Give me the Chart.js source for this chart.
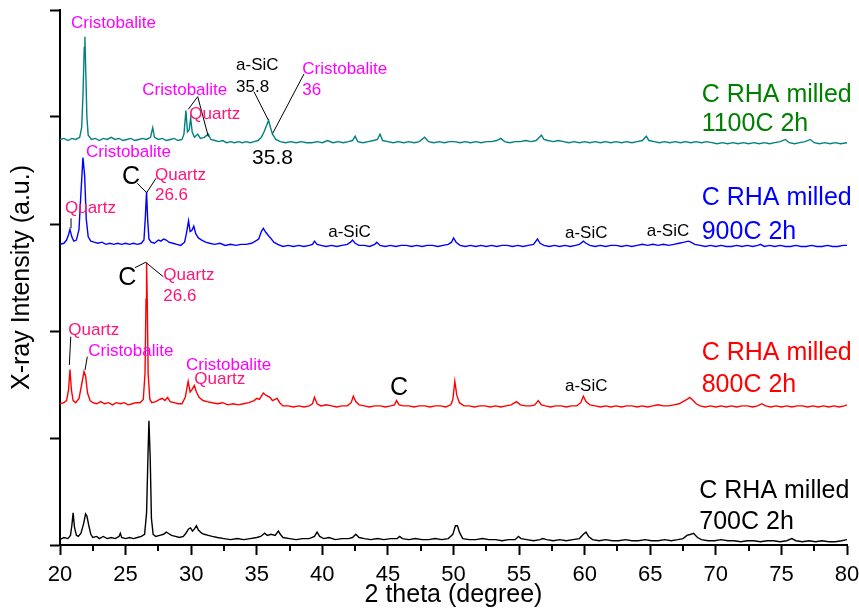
<!DOCTYPE html>
<html>
<head>
<meta charset="utf-8">
<script src="https://cdn.jsdelivr.net/npm/chart.js@4/dist/chart.umd.min.js"></script>
<style>
html,body{margin:0;padding:0;background:#fff;}
canvas{display:block;}
</style>
</head>
<body>
<canvas id="c" width="859" height="610"></canvas>
<script>
// ---- data: [2theta (degree), offset intensity (a.u.)] ----
const xTicks = [20, 25, 30, 35, 40, 45, 50, 55, 60, 65, 70, 75, 80];
const seriesNames = ['C RHA milled 700C 2h', 'C RHA milled 800C 2h', 'C RHA milled 900C 2h', 'C RHA milled 1100C 2h'];

const s700 = [[20.0,5],[20.3,7],[20.6,6],[20.8,9],[20.9,18],[21.0,30],[21.1,17],[21.25,9],[21.4,8],[21.6,11],[21.8,20],[21.95,29],[22.05,27],[22.2,18],[22.35,10],[22.5,7],[22.8,8],[23.0,6],[23.3,8],[23.6,6],[23.9,7],[24.2,6],[24.5,8],[24.6,11],[24.7,7],[25.0,6],[25.3,7],[25.6,6],[25.9,7],[26.2,8],[26.45,10],[26.6,30],[26.7,80],[26.78,116],[26.88,80],[26.97,25],[27.1,10],[27.3,8],[27.6,9],[27.9,10],[28.1,12],[28.25,11],[28.5,9],[28.8,8],[29.1,7],[29.4,8],[29.6,11],[29.8,15],[29.95,16],[30.1,13],[30.25,15],[30.4,18],[30.55,14],[30.8,11],[31.0,10],[31.3,9],[31.6,8],[32.0,7],[32.5,6],[33.0,5],[33.5,6],[34.0,5],[34.5,6],[35.0,7],[35.3,8],[35.6,11],[35.8,9],[36.1,10],[36.4,9],[36.65,13],[36.8,10],[37.0,7],[37.5,6],[38.0,5],[38.5,6],[39.0,6],[39.4,8],[39.6,12],[39.8,8],[40.1,6],[40.5,7],[41.0,5],[41.5,6],[42.0,6],[42.3,7],[42.55,10],[42.8,7],[43.2,6],[43.7,5],[44.2,6],[44.7,5],[45.2,6],[45.7,6],[45.9,8],[46.1,6],[46.6,5],[47.1,6],[47.6,5],[48.1,5],[48.6,6],[49.1,5],[49.6,6],[49.95,10],[50.15,18],[50.3,18],[50.45,12],[50.7,6],[51.2,5],[51.7,5],[52.2,6],[52.7,5],[53.2,5],[53.7,4],[54.2,5],[54.7,5],[54.95,8],[55.15,6],[55.6,5],[56.1,4],[56.6,5],[56.8,6],[57.1,5],[57.6,4],[58.1,5],[58.6,4],[59.1,5],[59.6,6],[59.9,10],[60.1,12],[60.3,8],[60.6,5],[61.1,4],[61.6,5],[62.1,4],[62.6,4],[63.1,5],[63.6,4],[64.1,4],[64.6,5],[65.1,4],[65.6,4],[66.1,5],[66.6,4],[67.1,5],[67.5,6],[67.8,9],[68.1,10],[68.3,11],[68.6,7],[68.9,5],[69.4,4],[69.9,4],[70.4,5],[70.9,4],[71.4,4],[71.9,3],[72.4,4],[72.9,4],[73.4,3],[73.9,4],[74.4,4],[74.9,3],[75.4,4],[75.8,6],[76.1,4],[76.6,3],[77.1,4],[77.6,3],[78.1,4],[78.6,3],[79.1,3],[79.6,4],[80.0,5]];

const s800 = [[20.0,132],[20.3,133],[20.5,135],[20.65,145],[20.76,164],[20.87,145],[21.0,135],[21.2,133],[21.45,137],[21.65,150],[21.83,162],[21.95,158],[22.1,142],[22.3,135],[22.5,133],[22.8,132],[23.1,134],[23.4,132],[23.7,133],[24.0,131],[24.3,133],[24.6,132],[24.9,133],[25.2,131],[25.5,132],[25.8,133],[26.1,133],[26.35,136],[26.48,160],[26.56,230],[26.6,264],[26.65,230],[26.72,160],[26.85,136],[27.0,133],[27.3,134],[27.6,136],[27.8,137],[28.0,135],[28.2,138],[28.4,134],[28.7,133],[29.0,132],[29.3,132],[29.55,138],[29.77,153],[29.92,143],[30.05,145],[30.24,149],[30.4,143],[30.6,138],[30.9,135],[31.2,134],[31.6,133],[32.0,132],[32.4,133],[32.8,131],[33.2,132],[33.6,131],[34.0,132],[34.4,133],[34.8,135],[35.0,137],[35.2,136],[35.5,142],[35.7,140],[36.0,138],[36.2,135],[36.55,137],[36.75,133],[37.0,130],[37.4,130],[37.8,129],[38.2,130],[38.6,129],[39.0,130],[39.25,132],[39.4,138],[39.6,132],[39.9,130],[40.3,131],[40.7,130],[41.1,129],[41.5,130],[41.9,130],[42.2,133],[42.36,139],[42.55,134],[42.8,131],[43.2,130],[43.6,129],[44.0,130],[44.4,130],[44.8,129],[45.2,130],[45.5,131],[45.66,135],[45.85,131],[46.2,130],[46.6,130],[47.0,129],[47.4,130],[47.8,130],[48.2,129],[48.6,130],[49.0,130],[49.4,129],[49.8,131],[49.95,136],[50.1,153],[50.25,140],[50.45,133],[50.8,130],[51.2,130],[51.6,129],[52.0,130],[52.4,130],[52.8,129],[53.2,130],[53.6,129],[54.0,130],[54.4,131],[54.8,134],[55.1,131],[55.5,130],[55.9,130],[56.2,131],[56.46,135],[56.7,131],[57.0,130],[57.4,129],[57.8,130],[58.2,130],[58.6,129],[59.0,130],[59.4,130],[59.7,133],[59.9,139],[60.1,134],[60.4,131],[60.8,130],[61.2,129],[61.6,130],[62.0,129],[62.4,130],[62.8,129],[63.2,130],[63.6,130],[64.0,129],[64.4,130],[64.8,129],[65.2,130],[65.6,131],[66.0,130],[66.4,130],[66.8,131],[67.2,132],[67.5,134],[67.8,136],[68.0,138],[68.2,136],[68.5,132],[68.8,130],[69.2,129],[69.6,130],[70.0,129],[70.4,130],[70.8,129],[71.2,130],[71.6,129],[72.0,130],[72.4,130],[72.8,129],[73.2,130],[73.5,132],[73.8,130],[74.2,129],[74.6,130],[75.0,129],[75.4,130],[75.8,129],[76.2,130],[76.6,130],[77.0,129],[77.4,130],[77.8,129],[78.2,130],[78.6,129],[79.0,130],[79.4,129],[79.8,130],[80.0,131]];

const s900 = [[20.0,281],[20.3,282],[20.5,285],[20.65,290],[20.76,295],[20.9,288],[21.05,284],[21.25,285],[21.45,295],[21.6,330],[21.75,362],[21.88,345],[22.0,305],[22.15,288],[22.35,284],[22.6,283],[22.9,282],[23.2,283],[23.5,281],[23.8,282],[24.1,281],[24.4,282],[24.7,281],[25.0,282],[25.3,281],[25.6,282],[25.9,281],[26.2,282],[26.4,285],[26.5,305],[26.6,330],[26.68,305],[26.78,286],[26.95,283],[27.2,282],[27.5,285],[27.7,284],[27.9,286],[28.1,285],[28.3,283],[28.6,282],[28.9,281],[29.2,280],[29.5,283],[29.65,292],[29.8,303],[29.92,293],[30.05,294],[30.2,298],[30.35,291],[30.55,287],[30.8,285],[31.1,283],[31.4,282],[31.8,281],[32.2,282],[32.6,280],[33.0,281],[33.4,280],[33.8,281],[34.2,281],[34.6,282],[34.9,284],[35.15,286],[35.35,293],[35.5,296],[35.7,292],[35.9,289],[36.05,287],[36.3,283],[36.6,281],[37.0,279],[37.4,280],[37.8,279],[38.2,280],[38.6,279],[39.0,280],[39.25,281],[39.4,284],[39.6,281],[39.9,280],[40.3,279],[40.7,280],[41.1,279],[41.5,280],[41.9,281],[42.15,283],[42.3,285],[42.5,282],[42.8,280],[43.2,280],[43.6,279],[44.0,281],[44.15,283],[44.4,280],[44.8,279],[45.2,280],[45.6,279],[46.0,280],[46.4,280],[46.8,279],[47.2,280],[47.6,279],[48.0,280],[48.4,280],[48.8,279],[49.2,280],[49.6,281],[49.85,283],[50.0,287],[50.2,283],[50.5,280],[50.9,279],[51.3,280],[51.7,279],[52.1,280],[52.5,279],[52.9,280],[53.3,279],[53.7,280],[54.1,280],[54.5,279],[54.9,280],[55.3,279],[55.7,280],[56.1,281],[56.4,286],[56.6,282],[56.9,280],[57.3,279],[57.7,280],[58.1,279],[58.5,280],[58.9,279],[59.3,280],[59.6,281],[59.9,284],[60.1,282],[60.4,280],[60.8,279],[61.2,280],[61.6,279],[62.0,280],[62.4,280],[62.8,279],[63.2,280],[63.6,279],[64.0,280],[64.4,281],[64.8,280],[65.2,281],[65.6,280],[66.0,281],[66.4,280],[66.8,281],[67.2,282],[67.6,283],[67.9,284],[68.1,283],[68.4,281],[68.8,280],[69.2,279],[69.6,280],[70.0,279],[70.4,280],[70.8,279],[71.2,279],[71.6,280],[72.0,279],[72.4,280],[72.8,279],[73.2,280],[73.4,281],[73.7,279],[74.1,280],[74.5,279],[74.9,280],[75.3,279],[75.7,279],[76.1,280],[76.5,279],[76.9,279],[77.3,280],[77.7,279],[78.1,279],[78.5,280],[78.9,279],[79.3,279],[79.7,280],[80.0,280]];

const s1100 = [[20.0,379],[20.3,380],[20.6,378],[20.9,380],[21.2,379],[21.5,381],[21.65,390],[21.75,420],[21.85,465],[21.9,475],[21.97,440],[22.05,400],[22.15,383],[22.4,379],[22.7,380],[23.0,378],[23.3,380],[23.6,379],[23.9,381],[24.2,379],[24.5,380],[24.8,378],[25.1,379],[25.4,380],[25.7,378],[26.0,379],[26.3,380],[26.6,379],[26.9,381],[27.07,390],[27.2,381],[27.5,379],[27.8,380],[28.1,378],[28.4,379],[28.7,380],[29.0,378],[29.3,379],[29.45,384],[29.6,406],[29.72,386],[29.85,388],[29.96,399],[30.08,386],[30.25,381],[30.5,384],[30.7,380],[31.0,381],[31.3,384],[31.5,379],[31.8,378],[32.1,377],[32.4,378],[32.7,376],[33.0,377],[33.3,376],[33.6,377],[33.9,376],[34.2,377],[34.5,376],[34.8,377],[35.1,378],[35.35,381],[35.55,386],[35.75,392],[35.9,397],[36.05,390],[36.2,384],[36.45,379],[36.8,377],[37.2,376],[37.6,377],[38.0,376],[38.4,377],[38.8,376],[39.2,376],[39.6,377],[40.0,376],[40.4,378],[40.8,376],[41.2,377],[41.6,376],[42.0,377],[42.3,378],[42.5,382],[42.7,377],[43.1,376],[43.5,377],[43.9,378],[44.2,379],[44.4,384],[44.6,378],[45.0,377],[45.4,376],[45.8,377],[46.2,376],[46.6,377],[47.0,376],[47.4,377],[47.8,381],[48.1,377],[48.5,376],[48.9,377],[49.3,376],[49.7,377],[50.1,377],[50.5,376],[50.9,377],[51.3,376],[51.7,377],[52.1,376],[52.5,377],[52.9,377],[53.3,378],[53.6,380],[53.9,377],[54.3,376],[54.7,377],[55.1,377],[55.5,378],[55.9,377],[56.3,378],[56.55,381],[56.7,383],[56.9,379],[57.2,378],[57.6,377],[58.0,378],[58.4,377],[58.8,376],[59.2,377],[59.6,376],[60.0,377],[60.4,376],[60.8,377],[61.2,376],[61.6,377],[62.0,376],[62.4,377],[62.8,376],[63.2,377],[63.6,376],[64.0,377],[64.4,378],[64.7,382],[64.9,378],[65.3,377],[65.7,376],[66.1,377],[66.5,376],[66.9,377],[67.3,376],[67.7,377],[68.1,376],[68.5,377],[68.9,376],[69.3,377],[69.7,376],[70.1,375],[70.5,376],[70.9,375],[71.3,376],[71.7,375],[72.1,376],[72.5,375],[72.9,376],[73.3,375],[73.7,376],[74.1,375],[74.5,376],[74.9,377],[75.3,379],[75.6,376],[76.0,375],[76.4,376],[76.8,377],[77.2,379],[77.5,376],[77.9,375],[78.3,376],[78.7,375],[79.1,376],[79.5,375],[80.0,376]];

// ---- annotation labels (anchored in data coordinates) ----
const MAG = '#FF00FF', PINK = '#FF1478', BLK = '#000000';
const labels = [
  // 1100C
  {t:'Cristobalite', x:20.84, y:487.9, c:MAG, s:17},
  {t:'Cristobalite', x:26.27, y:425.2, c:MAG, s:17},
  {t:'Quartz',       x:29.86, y:402.5, c:PINK, s:17},
  {t:'a-SiC',        x:33.42, y:448.6, c:BLK, s:17},
  {t:'35.8',         x:33.42, y:427.8, c:BLK, s:17},
  {t:'Cristobalite', x:38.47, y:444.6, c:MAG, s:17},
  {t:'36',           x:38.47, y:425.2, c:MAG, s:17},
  {t:'35.8',         x:34.64, y:361.7, c:BLK, s:21},
  {t:'C RHA milled', x:68.92, y:420.6, c:'#008000', s:25},
  {t:'1100C 2h',     x:68.92, y:393.5, c:'#008000', s:25},
  // 900C
  {t:'Cristobalite', x:21.98, y:366.8, c:MAG, s:17},
  {t:'C',            x:24.73, y:344.2, c:BLK, s:25},
  {t:'Quartz',       x:27.24, y:345.8, c:PINK, s:17},
  {t:'26.6',         x:27.24, y:327.1, c:PINK, s:17},
  {t:'Quartz',       x:20.38, y:314.7, c:PINK, s:17},
  {t:'a-SiC',        x:40.45, y:291.9, c:BLK, s:17},
  {t:'a-SiC',        x:58.50, y:291.3, c:BLK, s:17},
  {t:'a-SiC',        x:64.73, y:292.8, c:BLK, s:17},
  {t:'C RHA milled', x:68.92, y:324.0, c:'#0000FF', s:25},
  {t:'900C 2h',      x:68.92, y:292.8, c:'#0000FF', s:25},
  // 800C
  {t:'C',            x:24.44, y:249.3, c:BLK, s:25},
  {t:'Quartz',       x:27.88, y:251.7, c:PINK, s:17},
  {t:'26.6',         x:27.88, y:232.1, c:PINK, s:17},
  {t:'Quartz',       x:20.63, y:200.9, c:PINK, s:17},
  {t:'Cristobalite', x:22.16, y:181.3, c:MAG, s:17},
  {t:'Cristobalite', x:29.61, y:168.2, c:MAG, s:17},
  {t:'Quartz',       x:30.24, y:155.1, c:PINK, s:17},
  {t:'C',            x:45.16, y:146.4, c:BLK, s:25},
  {t:'a-SiC',        x:58.50, y:148.6, c:BLK, s:17},
  {t:'C RHA milled', x:68.92, y:179.7, c:'#FF0000', s:25},
  {t:'800C 2h',      x:68.92, y:149.5, c:'#FF0000', s:25},
  // 700C
  {t:'C RHA milled', x:68.74, y:50.7, c:BLK, s:25},
  {t:'700C 2h',      x:68.74, y:21.8, c:BLK, s:25}
];
const leaders = [
  [[30.50,419.0],[29.78,407.2]],
  [[30.50,419.0],[31.31,381.6]],
  [[34.79,423.6],[35.88,397.2]],
  [[38.60,440.2],[36.22,384.8]],
  [[25.89,338.0],[26.61,329.3],[27.32,342.7]],
  [[20.84,305.3],[20.84,296.0]],
  [[25.72,259.2],[26.53,264.2],[27.88,250.7]],
  [[20.82,194.7],[20.71,168.2]],
  [[22.08,176.0],[21.91,163.6]]
];

const FONT = "'Liberation Sans', Arial, Helvetica, sans-serif";
const toXY = arr => arr.map(p => ({x: p[0], y: p[1]}));

const annotationPlugin = {
  id: 'annot',
  afterDraw(chart) {
    const {ctx, scales: {x, y}} = chart;
    ctx.save();
    // minor ticks on x axis
    ctx.strokeStyle = '#000';
    ctx.lineWidth = 2;
    for (let i = 0; i < xTicks.length - 1; i++) {
      const v = (xTicks[i] + xTicks[i + 1]) / 2;
      const px = Math.round(x.getPixelForValue(v));
      ctx.beginPath();
      ctx.moveTo(px, x.top);
      ctx.lineTo(px, x.top + 6);
      ctx.stroke();
    }
    // leader lines
    ctx.lineWidth = 1;
    ctx.strokeStyle = '#000';
    leaders.forEach(seg => {
      ctx.beginPath();
      seg.forEach((p, i) => {
        const px = x.getPixelForValue(p[0]), py = y.getPixelForValue(p[1]);
        if (i === 0) ctx.moveTo(px, py); else ctx.lineTo(px, py);
      });
      ctx.stroke();
    });
    // text
    ctx.textAlign = 'left';
    ctx.textBaseline = 'middle';
    labels.forEach(l => {
      ctx.font = l.s + 'px ' + FONT;
      ctx.fillStyle = l.c;
      ctx.fillText(l.t, x.getPixelForValue(l.x), y.getPixelForValue(l.y));
    });
    ctx.restore();
  }
};

const mk = (label, arr, color) => ({
  label, data: toXY(arr), borderColor: color, backgroundColor: color,
  borderWidth: 1.4, pointRadius: 0, showLine: true, tension: 0
});

new Chart(document.getElementById('c'), {
  type: 'scatter',
  data: {
    datasets: [
      mk(seriesNames[0], s700, '#000000'),
      mk(seriesNames[1], s800, '#FF0000'),
      mk(seriesNames[2], s900, '#0000FF'),
      mk(seriesNames[3], s1100, '#008080')
    ]
  },
  options: {
    responsive: false,
    animation: false,
    devicePixelRatio: 1,
    layout: {padding: {top: 10, right: 12, left: 0, bottom: 0}},
    plugins: {legend: {display: false}, tooltip: {enabled: false}},
    scales: {
      x: {
        type: 'linear', min: 20, max: 80,
        afterBuildTicks: s => { s.ticks = xTicks.map(v => ({value: v})); },
        afterFit: s => { s.height = 65; s.paddingLeft = 0; s.paddingRight = 0; },
        ticks: {color: '#000', font: {family: FONT, size: 22}, padding: 7, maxRotation: 0},
        grid: {drawOnChartArea: false, drawTicks: true, tickLength: 10, tickWidth: 2, tickColor: '#000'},
        border: {display: true, color: '#000', width: 2},
        title: {display: true, text: '2 theta (degree)', color: '#000', font: {family: FONT, size: 25}, padding: {top: 0, bottom: 0}}
      },
      y: {
        type: 'linear', min: 0, max: 500,
        ticks: {display: false, stepSize: 100},
        afterFit: s => { s.width = 60; s.paddingTop = 0; s.paddingBottom = 0; },
        grid: {drawOnChartArea: false, drawTicks: true, tickLength: 10, tickWidth: 2, tickColor: '#000'},
        border: {display: true, color: '#000', width: 2},
        title: {display: true, text: 'X-ray Intensity (a.u.)', color: '#000', font: {family: FONT, size: 25}, padding: {top: 7, bottom: 0}}
      }
    }
  },
  plugins: [annotationPlugin]
});
</script>
</body>
</html>
